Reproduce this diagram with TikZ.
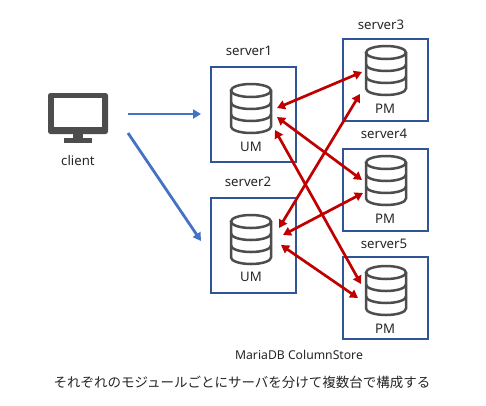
\documentclass[tikz,border=0pt]{standalone}
\usepackage{fontspec}
\setmainfont{Noto Sans}
\newfontfamily\cjk{Noto Sans CJK JP}
\usetikzlibrary{arrows.meta}
\definecolor{boxblue}{HTML}{2F5597}
\definecolor{flowblue}{HTML}{4472C4}
\definecolor{linkred}{HTML}{C00000}
\definecolor{icongray}{HTML}{4D4D4D}
\definecolor{textgray}{HTML}{262626}
\tikzset{
    srvbox/.style={draw=boxblue, line width=2pt, inner sep=0pt, minimum width=85pt},
    lbl/.style={inner sep=0pt, text=textgray, font=\fontsize{13.2}{15}\selectfont},
    flow/.style={draw=flowblue, line width=2.8pt, -{Triangle[length=8pt,width=9pt]}},
    link/.style={draw=linkred, line width=2.7pt, {Triangle[length=8pt,width=9pt]}-{Triangle[length=8pt,width=9pt]}},
    dbicon/.pic={
        \draw[icongray, line width=2.5pt] (0,7.5) ellipse [x radius=20pt, y radius=6.5pt];
        \draw[icongray, line width=2.5pt] (-20,7.5) -- (-20,43.5) arc[start angle=180, end angle=360, x radius=20pt, y radius=6.5pt] -- (20,7.5);
        \foreach \y in {19.5,31.5} {\draw[icongray, line width=2.5pt] (-20,\y) arc[start angle=180, end angle=360, x radius=20pt, y radius=6.5pt];}
    }
}
\begin{document}
\begin{tikzpicture}[x=1pt, y=-1pt]
\useasboundingbox (0,0) rectangle (486,405);

% servers
\node[srvbox, minimum height=95pt] (srv1) at (253,114) {};
\node[srvbox, minimum height=95pt] (srv2) at (253,245.5) {};
\node[srvbox, minimum height=82pt] (srv3) at (385,80) {};
\node[srvbox, minimum height=82pt] (srv4) at (385,190) {};
\node[srvbox, minimum height=82pt] (srv5) at (385,298) {};

\node[lbl] (name1) at (249,51) {server1};
\node[lbl] (name2) at (248,182) {server2};
\node[lbl] (name3) at (381,25) {server3};
\node[lbl] (name4) at (384,134) {server4};
\node[lbl] (name5) at (384,244) {server5};

% database icons
\pic at (251,83) {dbicon};
\pic at (251,214) {dbicon};
\pic at (386,45) {dbicon};
\pic at (386,155) {dbicon};
\pic at (386,265) {dbicon};

\node[lbl] (um1) at (251,147) {UM};
\node[lbl] (um2) at (251,277) {UM};
\node[lbl] (pm3) at (385,109) {PM};
\node[lbl] (pm4) at (385,219) {PM};
\node[lbl] (pm5) at (385,329) {PM};

% client
\fill[icongray, rounded corners=2.5pt] (48,93) rectangle (108,134);
\fill[white] (54,98) rectangle (102,127);
\fill[icongray] (73,134) rectangle (83,139);
\fill[icongray] (64,138) rectangle (92,143);
\node[lbl] (client) at (78,161) {client};
\coordinate (cl1) at (128,114);
\coordinate (cl2) at (128,133);
\coordinate (in1) at (201,114);
\coordinate (in2) at (201,241);
\draw[flow] (cl1) -- (in1);
\draw[flow] (cl2) -- (in2);

% links
\coordinate (a1) at (277,108);
\coordinate (b1) at (277,117);
\coordinate (c1) at (275,130);
\coordinate (a2) at (279,228);
\coordinate (b2) at (283,235);
\coordinate (c2) at (281,245);
\coordinate (a3) at (362,72);
\coordinate (b3) at (360,94);
\coordinate (a4) at (362,180);
\coordinate (b4) at (363,193);
\coordinate (a5) at (361,284);
\coordinate (b5) at (358,298);
\draw[link] (a1) -- (a3);
\draw[link] (b1) -- (a4);
\draw[link] (c1) -- (a5);
\draw[link] (a2) -- (b3);
\draw[link] (b2) -- (b4);
\draw[link] (c2) -- (b5);

\node[lbl, font=\fontsize{12.2}{14}\selectfont] (prod) at (299,355) {MariaDB ColumnStore};
\node[lbl, font=\fontsize{13.5}{15}\cjk] (note) at (242,382) {それぞれのモジュールごとにサーバを分けて複数台で構成する};
\end{tikzpicture}
\end{document}
